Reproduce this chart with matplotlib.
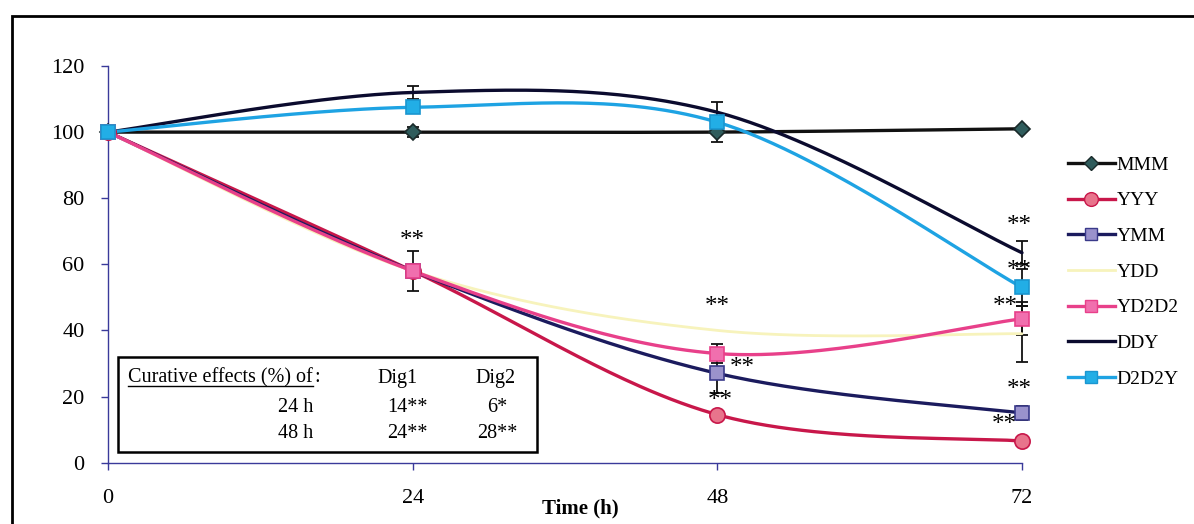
#!/usr/bin/env python
# Smoothed time-course chart with error bars and an inset table of curative effects

import numpy as np
import matplotlib
matplotlib.use("Agg")
from matplotlib import pyplot as plt
from matplotlib.patches import Rectangle
from matplotlib.lines import Line2D

# ---- data ----
time = [0, 24, 48, 72]

series_names = ['MMM', 'YYY', 'YMM', 'YDD', 'YD2D2', 'DDY', 'D2D2Y']
mmm = [100, 100, 100, 101]
yyy = [100, 58, 14.5, 6.5]
ymm = [100, 58, 27, 15]
ydd = [100, 58, 40, 39]
yd2d2 = [100, 58, 33, 43.5]
ddy = [100, 112, 106, 63.5]
d2d2y = [100, 107.5, 103, 53]

mmm_err = [0, 1.5, 3, 0]
yyy_err = [0, 0, 0, 0]
ymm_err = [0, 0, 6, 2]
ydd_err = [0, 0, 0, 8.5]
yd2d2_err = [0, 6, 3, 5]
ddy_err = [0, 2, 3, 3.5]
d2d2y_err = [0, 0, 0, 5.5]

# significance marks
star_x = [24, 48, 50, 48.2, 71.8, 71.8, 70.7, 71.8, 70.6]
star_y = [67, 47, 28.5, 18.5, 71.5, 58, 47, 22, 11.5]
star_text = ['**'] * 9

# inset table
table_title = 'Curative effects (%) of'
table_cols = ['Dig1', 'Dig2']
table_rows = ['24 h', '48 h']
table_dig1 = ['14**', '24**']
table_dig2 = ['6*', '28**']

xticks = [0, 24, 48, 72]
yticks = [0, 20, 40, 60, 80, 100, 120]


def smooth(x, y, n=60):
    # Excel-like smoothed line (Catmull-Rom Bezier through the points)
    x = np.asarray(x, float)
    y = np.asarray(y, float)
    px = np.concatenate([[x[0]], x, [x[-1]]])
    py = np.concatenate([[y[0]], y, [y[-1]]])
    t = np.linspace(0, 1, n)
    xs, ys = [], []
    for i in range(len(x) - 1):
        p0 = np.array([px[i], py[i]])
        p1 = np.array([px[i + 1], py[i + 1]])
        p2 = np.array([px[i + 2], py[i + 2]])
        p3 = np.array([px[i + 3], py[i + 3]])
        b1 = p1 + (p2 - p0) / 6.0
        b2 = p2 - (p3 - p1) / 6.0
        c = ((1 - t) ** 3)[:, None] * p1 + (3 * (1 - t) ** 2 * t)[:, None] * b1 \
            + (3 * (1 - t) * t ** 2)[:, None] * b2 + (t ** 3)[:, None] * p2
        xs.append(c[:, 0])
        ys.append(c[:, 1])
    return np.concatenate(xs), np.concatenate(ys)


def px2fig(x, y):
    return x / 1194.0, 1 - y / 524.0


def main():
    plt.rcParams['font.family'] = ['Liberation Serif', 'DejaVu Serif']

    fig = plt.figure(figsize=(11.94, 5.24), dpi=100)
    ax = fig.add_axes([108 / 1194, 61.4 / 524, (1022 - 108) / 1194, (462.6 - 66) / 524])

    values = [mmm, yyy, ymm, ydd, yd2d2, ddy, d2d2y]
    errors = [mmm_err, yyy_err, ymm_err, ydd_err, yd2d2_err, ddy_err, d2d2y_err]
    styles = [
        dict(color='#111111', lw=2.4, marker='D', ms=8, mfc='#2f5c5c', mec='#1a2a2a'),
        dict(color='#c8174a', lw=2.4, marker='o', ms=11, mfc='#e8748c', mec='#c8174a'),
        dict(color='#1b1b5e', lw=2.4, marker='s', ms=10, mfc='#9a92cc', mec='#3a3a8a'),
        dict(color='#f7f3bc', lw=2.0, marker='None', ms=0, mfc='none', mec='none'),
        dict(color='#e8408a', lw=2.4, marker='s', ms=10, mfc='#f06fae', mec='#e8408a'),
        dict(color='#0b0b2e', lw=2.4, marker='None', ms=0, mfc='none', mec='none'),
        dict(color='#1ea3e3', lw=2.4, marker='s', ms=10, mfc='#22aee6', mec='#1a96d0'),
    ]

    # error bars first, below the lines and markers
    for vals, errs in zip(values, errors):
        vals = np.asarray(vals, float)
        errs = np.asarray(errs, float)
        mask = errs > 0
        if mask.any():
            ax.errorbar(np.asarray(time)[mask], vals[mask], yerr=errs[mask],
                        fmt='none', ecolor='#111111', elinewidth=1.3,
                        capsize=4, capthick=1.3, zorder=2, clip_on=False)

    handles = []
    for name, vals, st in zip(series_names, values, styles):
        sx, sy = smooth(time, vals)
        ax.plot(sx, sy, color=st['color'], lw=st['lw'], zorder=3,
                solid_capstyle='round', clip_on=False)
        if st['marker'] != 'None':
            ax.plot(time, vals, ls='none', marker=st['marker'], ms=st['ms'],
                    mfc=st['mfc'], mec=st['mec'], mew=1.2, zorder=4, clip_on=False)
        handles.append(Line2D([], [], color=st['color'], lw=st['lw'],
                              marker=st['marker'], ms=st['ms'] * 0.9,
                              mfc=st['mfc'], mec=st['mec']))

    for sx, sy, s in zip(star_x, star_y, star_text):
        ax.text(sx, sy, s, ha='center', va='center', fontsize=18, zorder=5)

    ax.set_xlim(0, 72)
    ax.set_ylim(0, 120)
    ax.set_xticks(xticks)
    ax.set_yticks(yticks)
    ax.tick_params(axis='both', direction='out', length=5, width=1,
                   color='#3a3a9a', labelsize=16, labelcolor='black')
    ax.tick_params(axis='x', pad=14)
    ax.tick_params(axis='y', pad=12)
    for side in ['top', 'right']:
        ax.spines[side].set_visible(False)
    for side in ['left', 'bottom']:
        ax.spines[side].set_color('#3a3a9a')
        ax.spines[side].set_linewidth(1.0)

    fx, fy = px2fig(580, 508)
    fig.text(fx, fy, 'Time (h)', ha='center', va='center', fontsize=15,
             fontweight='bold')

    # legend on the right
    lx, ly = px2fig(1068, 156)
    fig.legend(handles, series_names, loc='upper left', bbox_to_anchor=(lx, ly),
               frameon=False, fontsize=14, borderpad=0, borderaxespad=0,
               handlelength=2.4, handletextpad=0.1, labelspacing=0.93)

    # inset table box
    bx0, by0 = px2fig(118, 452)
    bx1, by1 = px2fig(537, 357)
    fig.patches.append(Rectangle((bx0, by0), bx1 - bx0, by1 - by0,
                                 transform=fig.transFigure, fill=True,
                                 facecolor='white', edgecolor='black', lw=1.8,
                                 zorder=6))
    tx, ty = px2fig(128, 378)
    title = fig.text(tx, ty, table_title, ha='left', va='center', fontsize=14.5,
                     zorder=7)
    fig.canvas.draw()
    bb = title.get_window_extent().transformed(fig.transFigure.inverted())
    fig.text(bb.x1 + 0.001, ty, ':', ha='left', va='center', fontsize=14.5, zorder=7)
    ux0, uy = bb.x0, bb.y0 + 0.004
    fig.lines.append(Line2D([ux0, bb.x1], [uy, uy], transform=fig.transFigure,
                            color='black', lw=1.0, zorder=7))

    col_x = [398, 496]
    for cx, lab in zip(col_x, table_cols):
        fx, fy = px2fig(cx, 378)
        fig.text(fx, fy, lab, ha='center', va='center', fontsize=14.5, zorder=7)
    row_y = [408, 433]
    for ry, rlab, d1, d2 in zip(row_y, table_rows, table_dig1, table_dig2):
        fx, fy = px2fig(313, ry)
        fig.text(fx, fy, rlab, ha='right', va='center', fontsize=14.5, zorder=7)
        fx, fy = px2fig(407, ry)
        fig.text(fx, fy, d1, ha='center', va='center', fontsize=14.5, zorder=7)
        fx, fy = px2fig(497, ry)
        fig.text(fx, fy, d2, ha='center', va='center', fontsize=14.5, zorder=7)

    # outer frame of the scanned figure
    fx0, fy0 = px2fig(12, 540)
    fx1, fy1 = px2fig(1210, 16)
    fig.patches.append(Rectangle((fx0, fy0), fx1 - fx0, fy1 - fy0,
                                 transform=fig.transFigure, fill=False,
                                 edgecolor='black', lw=2.0, zorder=8))

    fig.savefig('out.png', dpi=100)


if __name__ == "__main__":
    main()
